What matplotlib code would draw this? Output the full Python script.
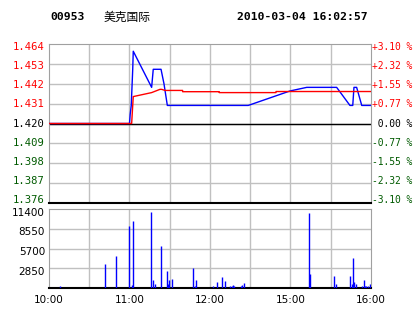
import numpy as np
import matplotlib.pyplot as plt
from matplotlib.transforms import offset_copy

# x = trading minutes from 10:00 (lunch break 12:30-14:30 removed)
code = '00953'
name = '美克国际'
stamp = '2010-03-04 16:02:57'
prev_close = 1.420

price_t = [0, 60, 60.5, 61.3, 62.4, 62.8, 76.5, 77.7, 83.5, 85.7, 88.2, 148.5,
           179.6, 192.1, 214.4, 224.3, 226.4, 227.3, 229.3, 233.1, 240]
price_v = [1.420, 1.420, 1.425, 1.430, 1.450, 1.460, 1.440, 1.450, 1.450, 1.442, 1.430, 1.430,
           1.438, 1.440, 1.440, 1.430, 1.430, 1.440, 1.440, 1.430, 1.430]

avg_t = [0, 61.6, 62.8, 76.5, 82.7, 84, 86.5, 99.6, 99.6, 126.9, 126.9, 169.2, 169.2, 240]
avg_v = [1.420, 1.420, 1.4349, 1.4371, 1.4389, 1.4389, 1.4383, 1.4383, 1.4376, 1.4376,
         1.4371, 1.4371, 1.4377, 1.4377]

vol_t = [8.4, 42, 49.6, 59.8, 62.1, 62.8, 76.2, 77.7, 79.2, 83.7, 88.2, 88.9, 89.7, 91.9,
         107.6, 109, 109.8, 122.5, 125.4, 129.2, 131.4, 135.1, 136.6, 137.4, 138.1, 143.3,
         144, 145.6, 193.6, 194.8, 212.6, 214.1, 224.6, 226.1, 226.8, 227.6, 229, 233.5,
         235, 235.7, 236.5, 238, 239.5]
vol_v = [330, 3460, 4600, 8920, 470, 9730, 11000, 1180, 610, 6030, 2470, 610, 1180, 1330,
         2890, 330, 1180, 330, 900, 1610, 1040, 330, 330, 470, 330, 330,
         470, 760, 10770, 2040, 1750, 610, 1750, 610, 4320, 900, 610, 330,
         1180, 330, 330, 330, 610]

price_ticks = [1.464, 1.453, 1.442, 1.431, 1.420, 1.409, 1.398, 1.387, 1.376]
pct_labels = ['+3.10 %', '+2.32 %', '+1.55 %', '+0.77 %', ' 0.00 %',
              '-0.77 %', '-1.55 %', '-2.32 %', '-3.10 %']
vol_ticks = [2850, 5700, 8550, 11400]
time_ticks = [0, 60, 120, 180, 240]
time_labels = ['10:00', '11:00', '12:00', '15:00', '16:00']

RED = '#ff0000'
GREEN = '#005a00'
GRID = '#c0c0c0'
mono = 'DejaVu Sans Mono'
W, H = 414, 314

fig = plt.figure(figsize=(W/100, H/100), dpi=100)
ax = fig.add_axes([49/W, 1-203/H, 322/W, 159/H])
axv = fig.add_axes([49/W, 1-288/H, 322/W, 79/H])

def colour(i):
    if i < 4:
        return RED
    if i == 4:
        return 'black'
    return GREEN

# price panel
ax.set_xlim(0, 240)
ax.set_ylim(1.376, 1.464)
for t in range(30, 240, 30):
    ax.axvline(t, color=GRID, lw=1, zorder=1)
for p in price_ticks[1:-1]:
    ax.axhline(p, color=GRID, lw=1, zorder=1)
ax.axhline(prev_close, color='black', lw=1, zorder=2)
ax.plot(price_t, price_v, color='#0000ff', lw=1, zorder=3)
ax.plot(avg_t, avg_v, color=RED, lw=1, zorder=4)
ax.set_xticks([])
ax.set_yticks([])
# the labels are spread a little tighter than the grid lines
n = len(price_ticks)
for i, (p, s) in enumerate(zip(price_ticks, pct_labels)):
    ypx = 47 + i * (200.3 - 47) / (n - 1)
    fig.text(45/W, 1-ypx/H, f'{p:.3f}', ha='right', va='center',
             fontfamily=mono, fontsize=7.6, color=colour(i))
    fig.text(372/W, 1-ypx/H, s, ha='left', va='center',
             fontfamily=mono, fontsize=6.9, color=colour(i))
for s in ['left', 'top', 'right']:
    ax.spines[s].set_color('#a0a0a0')
ax.spines['bottom'].set_color('black')
ax.spines['bottom'].set_linewidth(1.5)

# volume panel
axv.set_xlim(0, 240)
axv.set_ylim(0, 11400)
for t in range(30, 240, 30):
    axv.axvline(t, color=GRID, lw=1, zorder=1)
for v in vol_ticks[:-1]:
    axv.axhline(v, color=GRID, lw=1, zorder=1)
axv.vlines(vol_t, 0, vol_v, color='#0000ff', lw=1, zorder=3)
axv.set_yticks([])
vtr = offset_copy(axv.get_yaxis_transform(), fig=fig, x=-4, y=-3.5, units='dots')
for v in vol_ticks:
    axv.text(0.0, v, str(v), transform=vtr, ha='right', va='center',
             fontsize=7.5, clip_on=False)
axv.set_xticks(time_ticks)
axv.set_xticklabels(time_labels, fontsize=7.5)
axv.tick_params(axis='x', length=0, pad=5)
for s in ['left', 'top', 'right']:
    axv.spines[s].set_color('#a0a0a0')
axv.spines['bottom'].set_color('black')
axv.spines['bottom'].set_linewidth(1.5)

# header
fig.text(50/W, 1-17/H, code, fontfamily=mono, fontweight='bold', fontsize=8.2, va='center')
fig.text(104/W, 1-17/H, name, fontfamily=['Noto Sans CJK SC', 'DejaVu Sans'],
         fontsize=8.5, va='center')
fig.text(237/W, 1-17/H, stamp, fontfamily=mono, fontweight='bold', fontsize=8.2, va='center')

fig.savefig('out.png', dpi=100, facecolor='white')
